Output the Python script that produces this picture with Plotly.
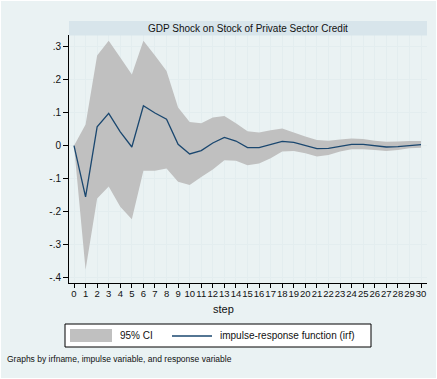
import plotly.graph_objects as go

# Impulse-response of private sector credit stock to a GDP shock
steps = list(range(31))
irf = [0.0, -0.155, 0.057, 0.098, 0.042, -0.004, 0.121, 0.099, 0.080, 0.004,
       -0.025, -0.015, 0.008, 0.025, 0.014, -0.006, -0.006, 0.004, 0.013, 0.010,
       0.001, -0.009, -0.008, -0.001, 0.004, 0.004, -0.001, -0.004, -0.003, 0.000, 0.003]
ci_upper = [0.0, 0.064, 0.273, 0.318, 0.267, 0.216, 0.318, 0.273, 0.226, 0.116,
            0.072, 0.068, 0.085, 0.090, 0.068, 0.044, 0.040, 0.047, 0.052, 0.040,
            0.028, 0.017, 0.015, 0.019, 0.022, 0.020, 0.015, 0.012, 0.013, 0.014, 0.014]
ci_lower = [0.0, -0.376, -0.160, -0.124, -0.185, -0.223, -0.076, -0.076, -0.069, -0.109,
            -0.119, -0.095, -0.072, -0.044, -0.046, -0.059, -0.054, -0.038, -0.018, -0.016,
            -0.023, -0.033, -0.028, -0.018, -0.011, -0.011, -0.013, -0.016, -0.013, -0.008, -0.006]

y_ticks = [0.3, 0.2, 0.1, 0.0, -0.1, -0.2, -0.3, -0.4]
y_tick_text = [".3", ".2", ".1", "0", "-.1", "-.2", "-.3", "-.4"]
x_tick_text = [str(s) for s in steps]

title_text = "GDP Shock on Stock of Private Sector Credit"
x_title = "step"
legend_labels = ["95% CI", "impulse-response function (irf)"]
note_text = "Graphs by irfname, impulse variable, and response variable"

W, H = 437, 379
L, R, T, B = 69, 10, 35, 96
PW, PH = W - L - R, H - T - B

BG = "#eaf2f3"
STRIP = "#d8e5eb"
GRID = "#e3edef"
BAND = "#c0c0c0"
NAVY = "#1a476f"
FONT = "Liberation Sans"


def px(x):
    return (x - L) / PW


def py(y):
    return (H - B - y) / PH


fig = go.Figure()

fig.add_trace(go.Scatter(
    x=steps + steps[::-1],
    y=ci_upper + ci_lower[::-1],
    fill="toself", fillcolor=BAND, mode="none",
    hoverinfo="skip", showlegend=False,
))
fig.add_trace(go.Scatter(
    x=steps, y=irf, mode="lines",
    line=dict(color=NAVY, width=1.3),
    showlegend=False,
))

shapes = [
    # outer graph region
    dict(type="rect", xref="paper", yref="paper",
         x0=px(1), x1=px(W - 1), y0=py(H - 1), y1=py(1),
         fillcolor=BG, line=dict(width=0), layer="below"),
    # title strip
    dict(type="rect", xref="paper", yref="paper",
         x0=0, x1=1, y0=py(35.5), y1=py(21),
         fillcolor=STRIP, line=dict(width=0)),
    # legend frame
    dict(type="rect", xref="paper", yref="paper",
         x0=px(65), x1=px(371), y0=py(347), y1=py(324),
         fillcolor="white", line=dict(color="black", width=1)),
    # legend swatch for the band
    dict(type="rect", xref="paper", yref="paper",
         x0=px(70), x1=px(112), y0=py(342), y1=py(329),
         fillcolor=BAND, line=dict(width=0)),
    # legend sample for the irf line
    dict(type="line", xref="paper", yref="paper",
         x0=px(172), x1=px(212), y0=py(336), y1=py(336),
         line=dict(color=NAVY, width=1.3)),
]

annotations = [
    dict(text=title_text, xref="paper", yref="paper", x=0.5, y=py(28.3),
         showarrow=False, xanchor="center", yanchor="middle",
         font=dict(family=FONT, size=10, color="#111")),
    dict(text=x_title, xref="paper", yref="paper", x=px(223), y=py(309),
         showarrow=False, xanchor="center", yanchor="middle",
         font=dict(family=FONT, size=11, color="#111")),
    dict(text=legend_labels[0], xref="paper", yref="paper", x=px(118), y=py(335.5),
         showarrow=False, xanchor="left", yanchor="middle",
         font=dict(family=FONT, size=10, color="#111")),
    dict(text=legend_labels[1], xref="paper", yref="paper", x=px(218), y=py(335.5),
         showarrow=False, xanchor="left", yanchor="middle",
         font=dict(family=FONT, size=10, color="#111")),
    dict(text=note_text, xref="paper", yref="paper", x=px(5), y=py(359),
         showarrow=False, xanchor="left", yanchor="middle",
         font=dict(family=FONT, size=8.5, color="#111")),
]

fig.update_layout(
    width=W, height=H,
    margin=dict(l=L, r=R, t=T, b=B, pad=0),
    paper_bgcolor="white", plot_bgcolor="white",
    font=dict(family=FONT, size=10, color="#111"),
    shapes=shapes, annotations=annotations,
    showlegend=False,
)

fig.update_xaxes(
    range=[(L - 74) / 11.567, (W - R - 74) / 11.567],
    tickmode="array", tickvals=steps, ticktext=x_tick_text,
    tickangle=0, ticklabelstandoff=-2,
    ticks="outside", ticklen=4, tickcolor="black", tickwidth=1,
    tickfont=dict(family=FONT, size=9.5, color="#111"),
    showgrid=True, gridcolor=GRID, gridwidth=1,
    showline=True, linecolor="black", linewidth=1,
    zeroline=False, fixedrange=True,
)
fig.update_yaxes(
    range=[(145.67 - 283) / 330, (145.67 - 35) / 330],
    tickmode="array", tickvals=y_ticks, ticktext=y_tick_text,
    ticks="outside", ticklen=5, tickcolor="black", tickwidth=1,
    tickfont=dict(family=FONT, size=10, color="#111"),
    showgrid=True, gridcolor=GRID, gridwidth=1,
    showline=True, linecolor="black", linewidth=1,
    zeroline=False, fixedrange=True,
)

fig.write_html("out.html")
